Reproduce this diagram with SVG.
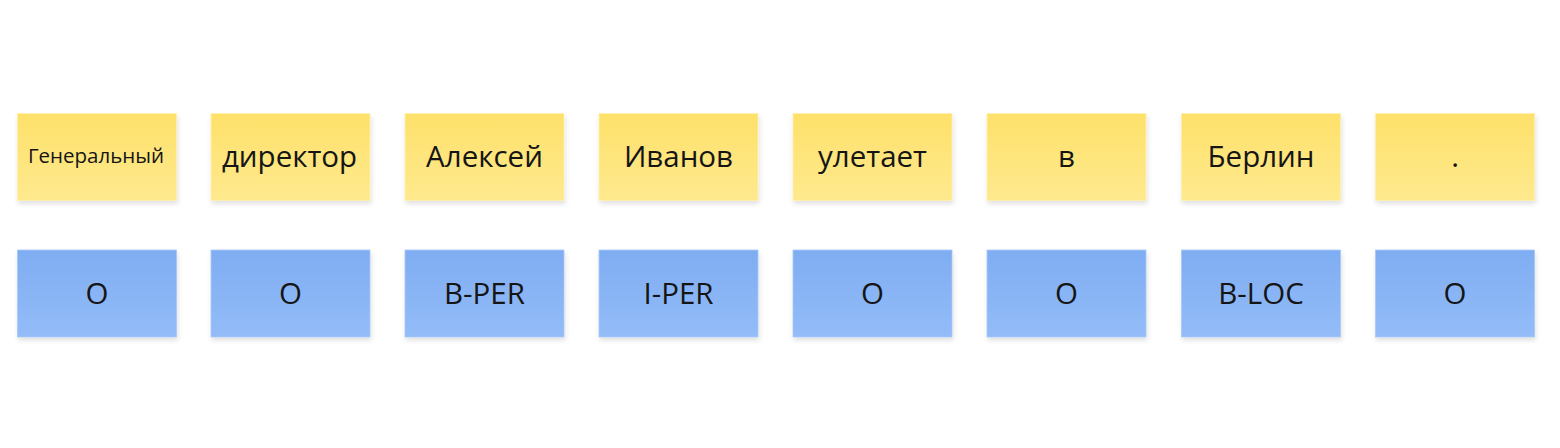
<svg xmlns="http://www.w3.org/2000/svg" width="1560" height="448" viewBox="0 0 1560 448">
<defs>
<linearGradient id="gy" x1="0" y1="0" x2="0" y2="1">
<stop offset="0" stop-color="#FEE16A"/>
<stop offset="1" stop-color="#FEE98E"/>
</linearGradient>
<linearGradient id="gb" x1="0" y1="0" x2="0" y2="1">
<stop offset="0" stop-color="#7FADF2"/>
<stop offset="1" stop-color="#93BCF8"/>
</linearGradient>
<filter id="sh" x="-10%" y="-10%" width="125%" height="130%">
<feDropShadow dx="1" dy="3" stdDeviation="2.5" flood-color="#000" flood-opacity="0.12"/>
</filter>
<style>
.y{fill:url(#gy);filter:url(#sh);stroke:#FEF0B0;stroke-width:0.8}
.b{fill:url(#gb);filter:url(#sh);stroke:#A9C8F8;stroke-width:0.8}
text{font-family:"Open Sans","Noto Sans","DejaVu Sans",sans-serif;font-size:29.5px;fill:#151515;text-anchor:middle}
.s{font-size:20.5px}
</style>
</defs>
<rect width="1560" height="448" fill="#fff"/>
<g id="connectors"/>
<g id="w1"><rect class="y" x="17.5" y="113.5" width="159" height="87"/><text class="s" x="96" y="162.5">Генеральный</text></g>
<g id="w2"><rect class="y" x="211" y="113.5" width="159" height="87"/><text x="289.5" y="166.5">директор</text></g>
<g id="w3"><rect class="y" x="405" y="113.5" width="159" height="87"/><text x="484.5" y="166.5">Алексей</text></g>
<g id="w4"><rect class="y" x="599" y="113.5" width="159" height="87"/><text x="678.5" y="166.5">Иванов</text></g>
<g id="w5"><rect class="y" x="793" y="113.5" width="159" height="87"/><text x="872.5" y="166.5">улетает</text></g>
<g id="w6"><rect class="y" x="987" y="113.5" width="159" height="87"/><text x="1066.5" y="166.5">в</text></g>
<g id="w7"><rect class="y" x="1181.5" y="113.5" width="159" height="87"/><text x="1261" y="166.5">Берлин</text></g>
<g id="w8"><rect class="y" x="1375.5" y="113.5" width="159" height="87"/><text x="1455" y="166.5">.</text></g>
<g id="t1"><rect class="b" x="17.5" y="250" width="159" height="87"/><text x="97" y="304">O</text></g>
<g id="t2"><rect class="b" x="211" y="250" width="159" height="87"/><text x="290.5" y="304">O</text></g>
<g id="t3"><rect class="b" x="405" y="250" width="159" height="87"/><text x="484.5" y="304">B-PER</text></g>
<g id="t4"><rect class="b" x="599" y="250" width="159" height="87"/><text x="678.5" y="304">I-PER</text></g>
<g id="t5"><rect class="b" x="793" y="250" width="159" height="87"/><text x="872.5" y="304">O</text></g>
<g id="t6"><rect class="b" x="987" y="250" width="159" height="87"/><text x="1066.5" y="304">O</text></g>
<g id="t7"><rect class="b" x="1181.5" y="250" width="159" height="87"/><text x="1261" y="304">B-LOC</text></g>
<g id="t8"><rect class="b" x="1375.5" y="250" width="159" height="87"/><text x="1455" y="304">O</text></g>
</svg>
